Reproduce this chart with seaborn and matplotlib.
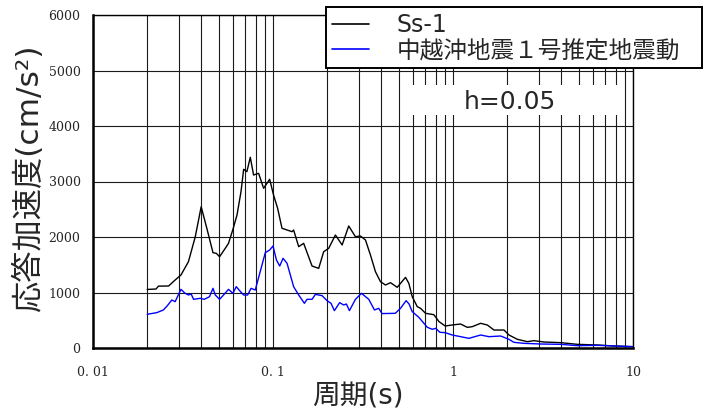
import numpy as np
import pandas as pd
import matplotlib
matplotlib.use("Agg")
import matplotlib.pyplot as plt
from matplotlib.ticker import LogLocator, FixedLocator, FixedFormatter, NullFormatter
from matplotlib.patches import Rectangle
import seaborn as sns

# ---------------- data ----------------
ss1_period = [0.0200, 0.0224, 0.0231, 0.0263, 0.0286, 0.0308, 0.0339, 0.0370, 0.0399, 0.0429,
              0.0464, 0.0484, 0.0505, 0.0543, 0.0566, 0.0599, 0.0631, 0.0664, 0.0687, 0.0716,
              0.0748, 0.0780, 0.0832, 0.0887, 0.0958, 0.1007, 0.1061, 0.1122, 0.1276, 0.1302,
              0.1389, 0.1480, 0.1648, 0.1794, 0.1912, 0.2039, 0.2222, 0.2421, 0.2634, 0.2871,
              0.3060, 0.3264, 0.3478, 0.3708, 0.3954, 0.4217, 0.4496, 0.4898, 0.5447, 0.5684,
              0.5935, 0.633, 0.660, 0.704, 0.783, 0.836, 0.906, 0.990, 1.102, 1.201,
              1.278, 1.424, 1.552, 1.689, 1.920, 2.047, 2.279, 2.590, 2.820, 3.200,
              3.970, 4.910, 6.350, 7.860, 10.0]
ss1_accel = [1055, 1063, 1115, 1117, 1225, 1315, 1555, 2005, 2546, 2156,
             1718, 1706, 1645, 1796, 1886, 2138, 2396, 2816, 3220, 3177,
             3436, 3117, 3147, 2877, 3040, 2757, 2517, 2157, 2096, 2126,
             1826, 1886, 1477, 1435, 1735, 1796, 2036, 1856, 2198, 2005,
             2018, 1946, 1676, 1375, 1195, 1135, 1177, 1093, 1273, 1165,
             925, 745, 715, 625, 600, 475, 396, 415, 432, 372,
             384, 445, 414, 324, 324, 234, 156, 114, 132, 108,
             96, 66, 54, 36, 24]

chuetsu_period = [0.0200, 0.0226, 0.0246, 0.0259, 0.0274, 0.0286, 0.0308, 0.0325, 0.0339, 0.0351,
                  0.0362, 0.0394, 0.0415, 0.0444, 0.0464, 0.0478, 0.0505, 0.0531, 0.0566, 0.0599,
                  0.0625, 0.0660, 0.0687, 0.0723, 0.0755, 0.0797, 0.0844, 0.0906, 0.0958, 0.1000,
                  0.1045, 0.1090, 0.1137, 0.1197, 0.1302, 0.1389, 0.1494, 0.1545, 0.1648, 0.1720,
                  0.1874, 0.1996, 0.2100, 0.2193, 0.2345, 0.2470, 0.2557, 0.2658, 0.2871, 0.3100,
                  0.3405, 0.3662, 0.3866, 0.4036, 0.4780, 0.5110, 0.5490, 0.5700, 0.5935, 0.646,
                  0.720, 0.767, 0.802, 0.845, 0.906, 0.990, 1.057, 1.226, 1.424, 1.584,
                  1.840, 2.047, 2.180, 2.480, 3.070, 3.970, 4.910, 6.350, 7.860, 10.0]
chuetsu_accel = [607, 637, 685, 763, 865, 835, 1057, 985, 955, 973,
                 877, 895, 877, 925, 1075, 955, 877, 955, 1057, 985,
                 1105, 1015, 955, 955, 1075, 1045, 1345, 1718, 1765, 1838,
                 1585, 1477, 1616, 1526, 1105, 955, 805, 877, 877, 967,
                 943, 853, 805, 673, 817, 775, 793, 673, 877, 985,
                 877, 685, 715, 620, 625, 715, 853, 793, 655, 553,
                 373, 337, 355, 283, 276, 234, 216, 174, 234, 204,
                 216, 156, 102, 84, 72, 66, 42, 48, 36, 24]

series_names = ["Ss-1", "中越沖地震１号推定地震動"]
series_colors = ["#000000", "#0000ff"]

x_ticks = [0.01, 0.1, 1, 10]
x_tick_labels = ["0. 01", "0. 1", "1", "10"]
y_ticks = [0, 1000, 2000, 3000, 4000, 5000, 6000]
y_tick_labels = ["0", "1000", "2000", "3000", "4000", "5000", "6000"]

x_label = "周期(s)"
y_label = "応答加速度(cm/s²)"
damping_text = "h=0.05"

# ---------------- build table ----------------
df = pd.concat([
    pd.DataFrame({"period": ss1_period, "accel": ss1_accel, "series": series_names[0]}),
    pd.DataFrame({"period": chuetsu_period, "accel": chuetsu_accel, "series": series_names[1]}),
], ignore_index=True)

# ---------------- style ----------------
sns.set_style("white")
plt.rcParams["font.family"] = ["DejaVu Sans", "Noto Sans CJK JP"]
plt.rcParams["axes.unicode_minus"] = False

W, H = 704, 413
fig = plt.figure(figsize=(W / 100, H / 100), dpi=100)
ax = fig.add_axes([93 / W, 1 - 348 / H, (633 - 93) / W, (348 - 15) / H])

sns.lineplot(data=df, x="period", y="accel", hue="series",
             palette=dict(zip(series_names, series_colors)),
             estimator=None, sort=False, linewidth=1.0, ax=ax, zorder=3)

ax.set_xscale("log")
ax.set_xlim(0.01, 10)
ax.set_ylim(0, 6000)

ax.xaxis.set_major_locator(FixedLocator(x_ticks))
ax.xaxis.set_major_formatter(FixedFormatter(x_tick_labels))
ax.xaxis.set_minor_locator(LogLocator(base=10, subs=np.arange(2, 10)))
ax.xaxis.set_minor_formatter(NullFormatter())
ax.yaxis.set_major_locator(FixedLocator(y_ticks))
ax.yaxis.set_major_formatter(FixedFormatter(y_tick_labels))

for lab in ax.get_xticklabels() + ax.get_yticklabels():
    lab.set_fontfamily("DejaVu Serif")
    lab.set_fontsize(9)
ax.tick_params(axis="both", which="both", length=0)
ax.tick_params(axis="x", pad=13)
ax.tick_params(axis="y", pad=9)

ax.grid(True, which="both", axis="x", color="#1a1a1a", linewidth=0.8)
ax.grid(True, which="major", axis="y", color="#1a1a1a", linewidth=0.8)
ax.set_axisbelow(True)

for side in ["top", "right"]:
    ax.spines[side].set_linewidth(1.0)
    ax.spines[side].set_color("black")
for side in ["left", "bottom"]:
    ax.spines[side].set_linewidth(1.8)
    ax.spines[side].set_color("black")

ax.set_xlabel("")
ax.set_ylabel("")
fig.text(358 / W, 1 - 396 / H, x_label, fontsize=20, ha="center", va="center")
fig.text(28 / W, 1 - 178 / H, y_label, fontsize=22.5, ha="center", va="center", rotation=90)

# white panel behind damping annotation
ax.add_patch(Rectangle((403 / W, 1 - 115 / H), (620 - 403) / W, (115 - 85) / H,
                       transform=fig.transFigure, facecolor="white", edgecolor="none", zorder=2))
fig.text(510 / W, 1 - 102 / H, damping_text, fontsize=18, ha="center", va="center", zorder=5)

# legend (expanded to the reference box width)
handles, labels = ax.get_legend_handles_labels()
leg = ax.legend(handles, labels, loc="upper left", mode="expand",
                bbox_to_anchor=(326 / W, 1 - 67 / H, (702 - 326) / W, 60 / H),
                bbox_transform=fig.transFigure,
                borderaxespad=0, frameon=True, fancybox=False, framealpha=1,
                edgecolor="black", prop={"size": 17, "family": ["DejaVu Sans", "Noto Sans CJK JP"]},
                handlelength=1.55, handletextpad=1.2, borderpad=0.25, labelspacing=0.05)
leg.get_frame().set_linewidth(1.4)
leg.set_zorder(10)
for ln in leg.get_lines():
    ln.set_linewidth(1.2)

fig.savefig("out.png", dpi=100)
